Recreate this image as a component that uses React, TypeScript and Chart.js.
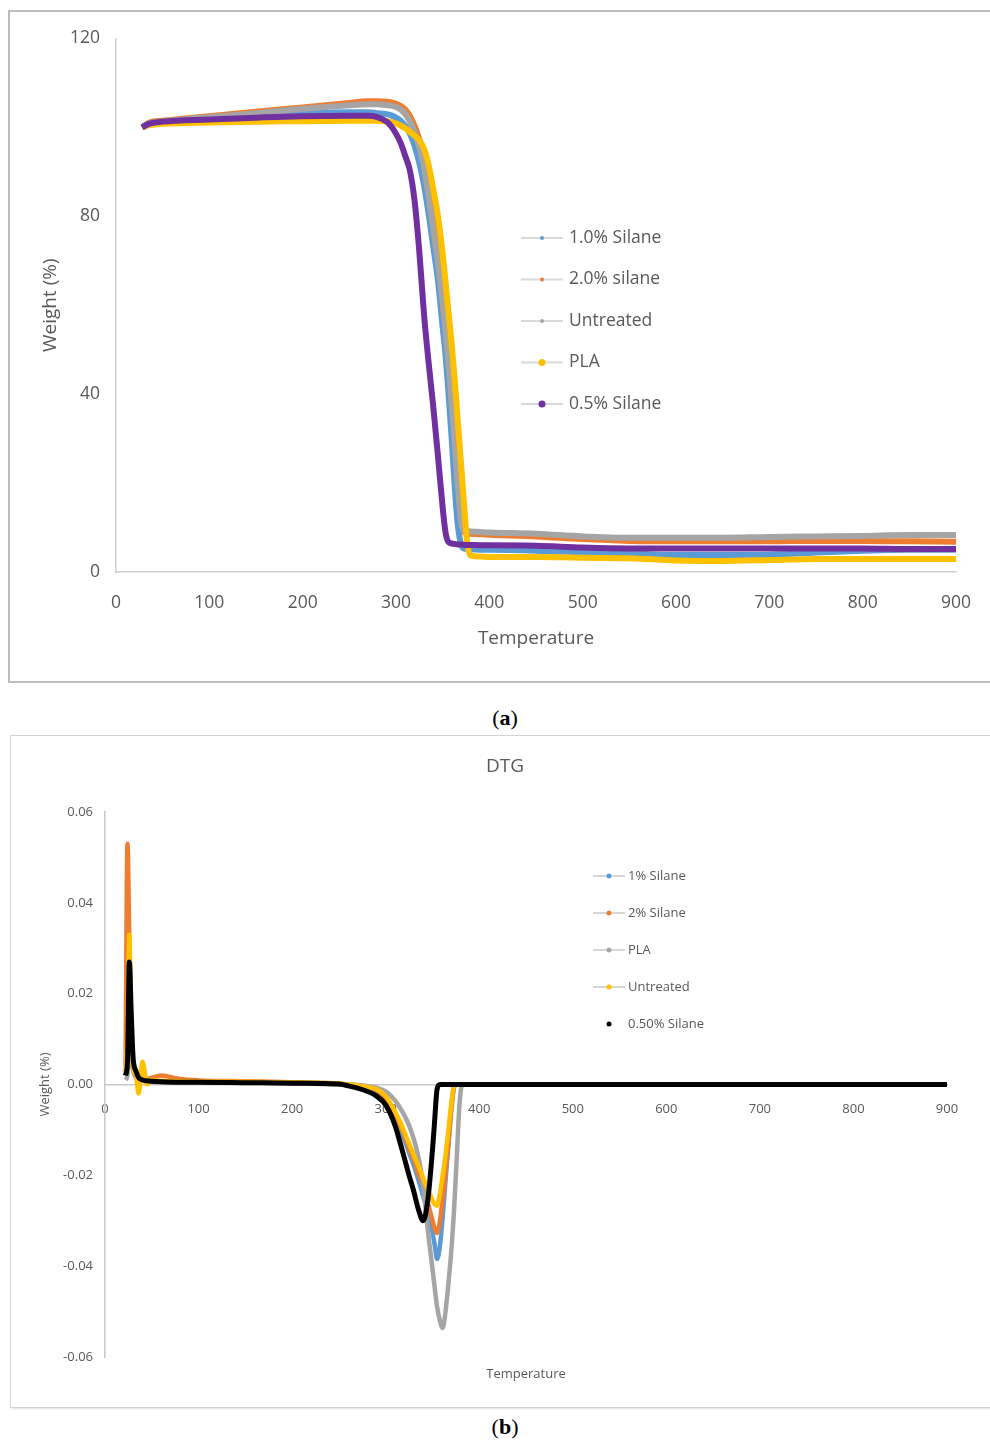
import React, { useEffect, useRef } from "react";
import { Chart, registerables } from "chart.js";

Chart.register(...registerables);

// ---------- (a) TGA data ----------
const tgaTemps = [28, 35, 50, 100, 150, 200, 250, 270, 280, 290, 295, 300, 305, 310, 315, 320, 325, 330, 335, 340, 345, 350, 353, 356, 360, 363, 366, 370, 373, 376, 380, 390, 400, 450, 500, 550, 600, 650, 700, 750, 800, 850, 900];
const tgaSilane10 = [100, 100.9, 101.3, 102, 102.6, 103.1, 103.4, 103.4, 103.2, 103, 102.7, 102.2, 101.5, 100.3, 98.5, 95.8, 92, 87, 80.5, 73, 65.5, 55, 49, 41, 29, 19, 11, 6, 5.3, 5.2, 5.1, 5.0, 5.0, 4.8, 4.4, 4.2, 3.8, 3.8, 3.9, 4.4, 4.8, 5.0, 5.0];
const tgaSilane20 = [100, 101, 101.5, 102.5, 103.5, 104.5, 105.5, 105.9, 105.9, 105.8, 105.6, 105.3, 104.8, 104, 102.5, 100.3, 97.3, 93.5, 88.5, 81.5, 73, 64, 58, 51, 41, 32.5, 23, 13, 9, 8.7, 8.6, 8.5, 8.4, 8.0, 7.4, 7.0, 6.9, 6.9, 6.9, 7.0, 7.0, 6.9, 6.8];
const tgaUntreated = [100, 100.8, 101.3, 102.3, 103.2, 104.2, 105, 105.2, 105.2, 105, 104.9, 104.6, 104, 103, 101.3, 98.8, 95.5, 91, 84.5, 77, 69.5, 60.5, 54.5, 47.5, 37, 28.5, 20, 11, 9.3, 9.2, 9.1, 9.0, 8.9, 8.6, 8.0, 7.7, 7.7, 7.7, 7.9, 8.0, 8.1, 8.3, 8.3];
const tgaPLA = [100, 100.5, 100.8, 101.1, 101.3, 101.4, 101.5, 101.5, 101.5, 101.4, 101.2, 100.9, 100.4, 99.8, 99, 98.1, 97.1, 95.2, 91.5, 86, 80, 71.5, 65.5, 59, 50.6, 43, 34.5, 23.5, 15, 7, 3.7, 3.5, 3.4, 3.4, 3.2, 3.1, 2.6, 2.5, 2.7, 2.9, 2.9, 2.9, 2.9];
const tgaSilane05 = [100, 100.8, 101.3, 101.8, 102.2, 102.5, 102.6, 102.6, 102.3, 101.3, 100.2, 98.6, 96.5, 93.5, 90.2, 83.3, 72, 58, 47, 37, 26, 14.5, 9, 6.8, 6.4, 6.3, 6.2, 6.2, 6.1, 6.1, 6.1, 6.0, 6.0, 5.9, 5.5, 5.3, 5.3, 5.3, 5.3, 5.3, 5.3, 5.2, 5.2];
const tgaLabels = ["1.0% Silane", "2.0% silane", "Untreated", "PLA", "0.5% Silane"];
const tgaColors = ["#5B9BD5", "#ED7D31", "#A5A5A5", "#FFC000", "#7030A0"];
const tgaDotRadius = [2, 2, 2, 3.5, 3.5];

// ---------- (b) DTG data ----------
const dtgTemps = [22, 24, 26, 28, 30, 33, 36, 40, 45, 50, 60, 80, 100, 150, 200, 250, 260, 270, 280, 290, 300, 310, 315, 320, 325, 330, 335, 340, 345, 350, 352, 355, 358, 361, 364, 367, 370, 373, 376, 379, 382, 400, 500, 600, 700, 800, 900];
const dtgSilane1 = [0.002, 0.009, 0.030, 0.012, 0.004, 0.002, 0.0015, 0.001, 0.0009, 0.0008, 0.0007, 0.0006, 0.0006, 0.0005, 0.0004, 0.0001, -0.0002, -0.0005, -0.001, -0.0018, -0.0035, -0.0075, -0.0098, -0.0122, -0.015, -0.0178, -0.021, -0.0245, -0.028, -0.0325, -0.0348, -0.0384, -0.0355, -0.029, -0.021, -0.0135, -0.006, -0.0008, 0, 0, 0, 0, 0, 0, 0, 0, 0];
const dtgSilane2 = [0.004, 0.053, 0.032, 0.010, 0.004, 0.002, 0.0015, 0.001, 0.0012, 0.0015, 0.002, 0.0012, 0.0009, 0.0007, 0.0005, 0.0002, 0, -0.0002, -0.0006, -0.0012, -0.003, -0.0065, -0.0088, -0.0112, -0.014, -0.0165, -0.0195, -0.0225, -0.026, -0.030, -0.0315, -0.0327, -0.030, -0.025, -0.0195, -0.013, -0.0055, -0.0005, 0, 0, 0, 0, 0, 0, 0, 0, 0];
const dtgPLA = [0.001, 0.002, 0.012, 0.006, 0.003, 0.0015, 0.001, 0.0008, 0.0007, 0.0006, 0.0005, 0.0005, 0.0004, 0.0004, 0.0003, 0, 0, -0.0001, -0.0003, -0.0007, -0.0015, -0.0035, -0.005, -0.0068, -0.009, -0.012, -0.016, -0.022, -0.032, -0.0405, -0.044, -0.049, -0.052, -0.0536, -0.050, -0.044, -0.037, -0.028, -0.016, -0.004, 0, 0, 0, 0, 0, 0, 0];
const dtgUntreated = [0.003, 0.012, 0.033, 0.012, 0.004, 0.002, -0.002, 0.005, 0.000, 0.001, 0.0008, 0.0007, 0.0006, 0.0006, 0.0004, 0.0002, 0, -0.0002, -0.0005, -0.001, -0.0025, -0.006, -0.008, -0.0105, -0.013, -0.0155, -0.018, -0.0205, -0.023, -0.0255, -0.0263, -0.0267, -0.024, -0.020, -0.0155, -0.010, -0.0045, -0.0003, 0, 0, 0, 0, 0, 0, 0, 0, 0];
const dtgSilane05 = [0.002, 0.005, 0.027, 0.016, 0.006, 0.003, 0.0015, 0.001, 0.0008, 0.0007, 0.0006, 0.0005, 0.0005, 0.0004, 0.0003, 0.0001, -0.0003, -0.0008, -0.0015, -0.0025, -0.0045, -0.009, -0.0125, -0.0162, -0.020, -0.0235, -0.0275, -0.030, -0.0255, -0.0145, -0.009, -0.001, 0, 0, 0, 0, 0, 0, 0, 0, 0, 0, 0, 0, 0, 0, 0];
const dtgLabels = ["1% Silane", "2% Silane", "PLA", "Untreated", "0.50% Silane"];
const dtgColors = ["#5B9BD5", "#ED7D31", "#A5A5A5", "#FFC000", "#000000"];
const dtgLegendLine = [true, true, true, true, false];

const TEXT = "#595959";
const FONT = "'Open Sans', 'Noto Sans', sans-serif";

const customLegend = {
  id: "customLegend",
  afterDraw(chart: any, _args: any, opts: any) {
    const ctx = chart.ctx;
    ctx.save();
    chart.data.datasets.forEach((ds: any, i: number) => {
      const y = opts.y + i * opts.spacing;
      if (opts.showLine[i]) {
        ctx.strokeStyle = opts.lineColor;
        ctx.lineWidth = opts.lineWidth;
        ctx.beginPath();
        ctx.moveTo(opts.x, y);
        ctx.lineTo(opts.x + opts.lineLen, y);
        ctx.stroke();
      }
      ctx.fillStyle = ds.borderColor;
      ctx.beginPath();
      ctx.arc(opts.x + opts.lineLen / 2, y, opts.radius[i], 0, Math.PI * 2);
      ctx.fill();
      ctx.fillStyle = TEXT;
      ctx.font = opts.font;
      ctx.textBaseline = "middle";
      ctx.textAlign = "left";
      ctx.fillText(ds.label, opts.x + opts.lineLen + opts.gap, y);
    });
    ctx.restore();
  },
};

function TgaChart() {
  const ref = useRef<HTMLCanvasElement | null>(null);
  useEffect(() => {
    const chart = new Chart(ref.current as HTMLCanvasElement, {
      type: "line",
      data: {
        datasets: [tgaSilane10, tgaSilane20, tgaUntreated, tgaPLA, tgaSilane05].map((vals, i) => ({
          label: tgaLabels[i],
          data: tgaTemps.map((t, j) => ({ x: t, y: vals[j] })),
          borderColor: tgaColors[i],
          backgroundColor: tgaColors[i],
          borderWidth: 6,
          pointRadius: 0,
          cubicInterpolationMode: "monotone" as const,
          order: -i,
        })),
      },
      options: {
        animation: false,
        responsive: false,
        maintainAspectRatio: false,
        layout: { padding: { left: 0, top: 26, right: 32, bottom: 0 } },
        plugins: {
          legend: { display: false },
          tooltip: { enabled: false },
          customLegend: {
            x: 511, y: 226, spacing: 41.5, lineLen: 42, gap: 6, lineWidth: 2,
            lineColor: "#d9d9d9", radius: tgaDotRadius, showLine: [true, true, true, true, true],
            font: `17.5px ${FONT}`,
          },
        } as any,
        scales: {
          x: {
            type: "linear", min: 0, max: 900,
            ticks: { stepSize: 100, padding: 21, color: TEXT, font: { family: FONT, size: 17.5 } },
            grid: { display: false, drawTicks: false },
            border: { display: true, color: "#d0d0d0", width: 1.5 },
            title: { display: true, text: "Temperature", color: TEXT, font: { family: FONT, size: 19 }, padding: { top: 0, bottom: 30 } },
            afterFit: (s: any) => { s.height = 108; s.paddingRight = 16; s.paddingLeft = 16; },
          },
          y: {
            type: "linear", min: 0, max: 120,
            ticks: { stepSize: 40, padding: 16, color: TEXT, font: { family: FONT, size: 17.5 } },
            grid: { display: false, drawTicks: false },
            border: { display: true, color: "#d0d0d0", width: 1.5 },
            title: { display: true, text: "Weight (%)", color: TEXT, font: { family: FONT, size: 19 }, padding: { top: 29, bottom: 0 } },
            afterFit: (s: any) => { s.width = 106; },
          },
        },
      },
      plugins: [customLegend],
    });
    return () => chart.destroy();
  }, []);
  return <canvas ref={ref} width={978} height={668} style={{ position: "absolute", left: 10, top: 12, width: 978, height: 668 }} />;
}

function DtgChart() {
  const ref = useRef<HTMLCanvasElement | null>(null);
  useEffect(() => {
    const chart = new Chart(ref.current as HTMLCanvasElement, {
      type: "line",
      data: {
        datasets: [dtgSilane1, dtgSilane2, dtgPLA, dtgUntreated, dtgSilane05].map((vals, i) => ({
          label: dtgLabels[i],
          data: dtgTemps.map((t, j) => ({ x: t, y: vals[j] })),
          borderColor: dtgColors[i],
          backgroundColor: dtgColors[i],
          borderWidth: i === 4 ? 5 : 4.5,
          pointRadius: 0,
          cubicInterpolationMode: "monotone" as const,
          order: -i,
        })),
      },
      options: {
        animation: false,
        responsive: false,
        maintainAspectRatio: false,
        layout: { padding: { left: 10, top: 0, right: 0, bottom: 0 } },
        plugins: {
          legend: { display: false },
          tooltip: { enabled: false },
          title: { display: true, text: "DTG", color: TEXT, font: { family: FONT, size: 19, weight: "normal" }, padding: { top: 19.6, bottom: 33.6 } },
          customLegend: {
            x: 582, y: 140, spacing: 37, lineLen: 32, gap: 3, lineWidth: 1.5,
            lineColor: "#c8c8c8", radius: [2.5, 2.5, 2.5, 2.5, 2.5], showLine: dtgLegendLine,
            font: `13px ${FONT}`,
          },
        } as any,
        scales: {
          x: {
            type: "linear", min: 0, max: 900, position: { y: 0 } as any,
            ticks: { stepSize: 100, padding: 17, color: TEXT, font: { family: FONT, size: 13 } },
            grid: { display: false, drawTicks: false },
            border: { display: true, color: "#c8c8c8", width: 1.5 },
            afterFit: (s: any) => { s.paddingRight = 12; s.paddingLeft = 4; },
          },
          x2: {
            type: "linear", min: 0, max: 900, position: "bottom",
            ticks: { display: false },
            grid: { display: false, drawTicks: false },
            border: { display: false },
            title: { display: true, text: "Temperature", color: TEXT, font: { family: FONT, size: 13 }, padding: { top: 0, bottom: 24 } },
            afterFit: (s: any) => { s.height = 49; s.paddingRight = 0; s.paddingLeft = 0; },
          },
          y: {
            type: "linear", min: -0.06, max: 0.06,
            ticks: {
              stepSize: 0.02, padding: 12, color: TEXT, font: { family: FONT, size: 13 },
              callback: (v: any) => (Math.abs(Number(v)) < 1e-9 ? "0.00" : Number(v).toFixed(2)),
            },
            grid: { display: false, drawTicks: false },
            border: { display: true, color: "#c8c8c8", width: 1.5 },
            title: { display: true, text: "Weight (%)", color: TEXT, font: { family: FONT, size: 13 }, padding: { top: 16.2, bottom: 0 } },
            afterFit: (s: any) => { s.width = 84; },
          },
          yRight: {
            type: "linear", min: -0.06, max: 0.06, position: "right",
            ticks: { display: false },
            grid: { display: false, drawTicks: false },
            border: { display: false },
            afterFit: (s: any) => { s.width = 42; },
          },
        },
      },
      plugins: [customLegend],
    });
    return () => chart.destroy();
  }, []);
  return <canvas ref={ref} width={978} height={670} style={{ position: "absolute", left: 11, top: 736, width: 978, height: 670 }} />;
}

export default function App() {
  return (
    <div style={{ position: "absolute", left: 0, top: 0, width: 990, height: 1441, overflow: "hidden", background: "#fff" }}>
      <div style={{ position: "absolute", left: 8, top: 10, width: 1000, height: 673, boxSizing: "border-box", border: "2px solid #bcbcbc" }} />
      <TgaChart />
      <div style={{ position: "absolute", left: 0, top: 705, width: 1010, textAlign: "center", fontFamily: "'Liberation Serif', serif", fontSize: 22, lineHeight: "26px", color: "#000" }}>
        (<b>a</b>)
      </div>
      <div style={{ position: "absolute", left: 10, top: 735, width: 1000, height: 673, boxSizing: "border-box", border: "1.5px solid #d4d4d4", boxShadow: "1px 1px 2px rgba(0,0,0,0.12)" }} />
      <DtgChart />
      <div style={{ position: "absolute", left: 0, top: 1414, width: 1010, textAlign: "center", fontFamily: "'Liberation Serif', serif", fontSize: 22, lineHeight: "26px", color: "#000" }}>
        (<b>b</b>)
      </div>
    </div>
  );
}
